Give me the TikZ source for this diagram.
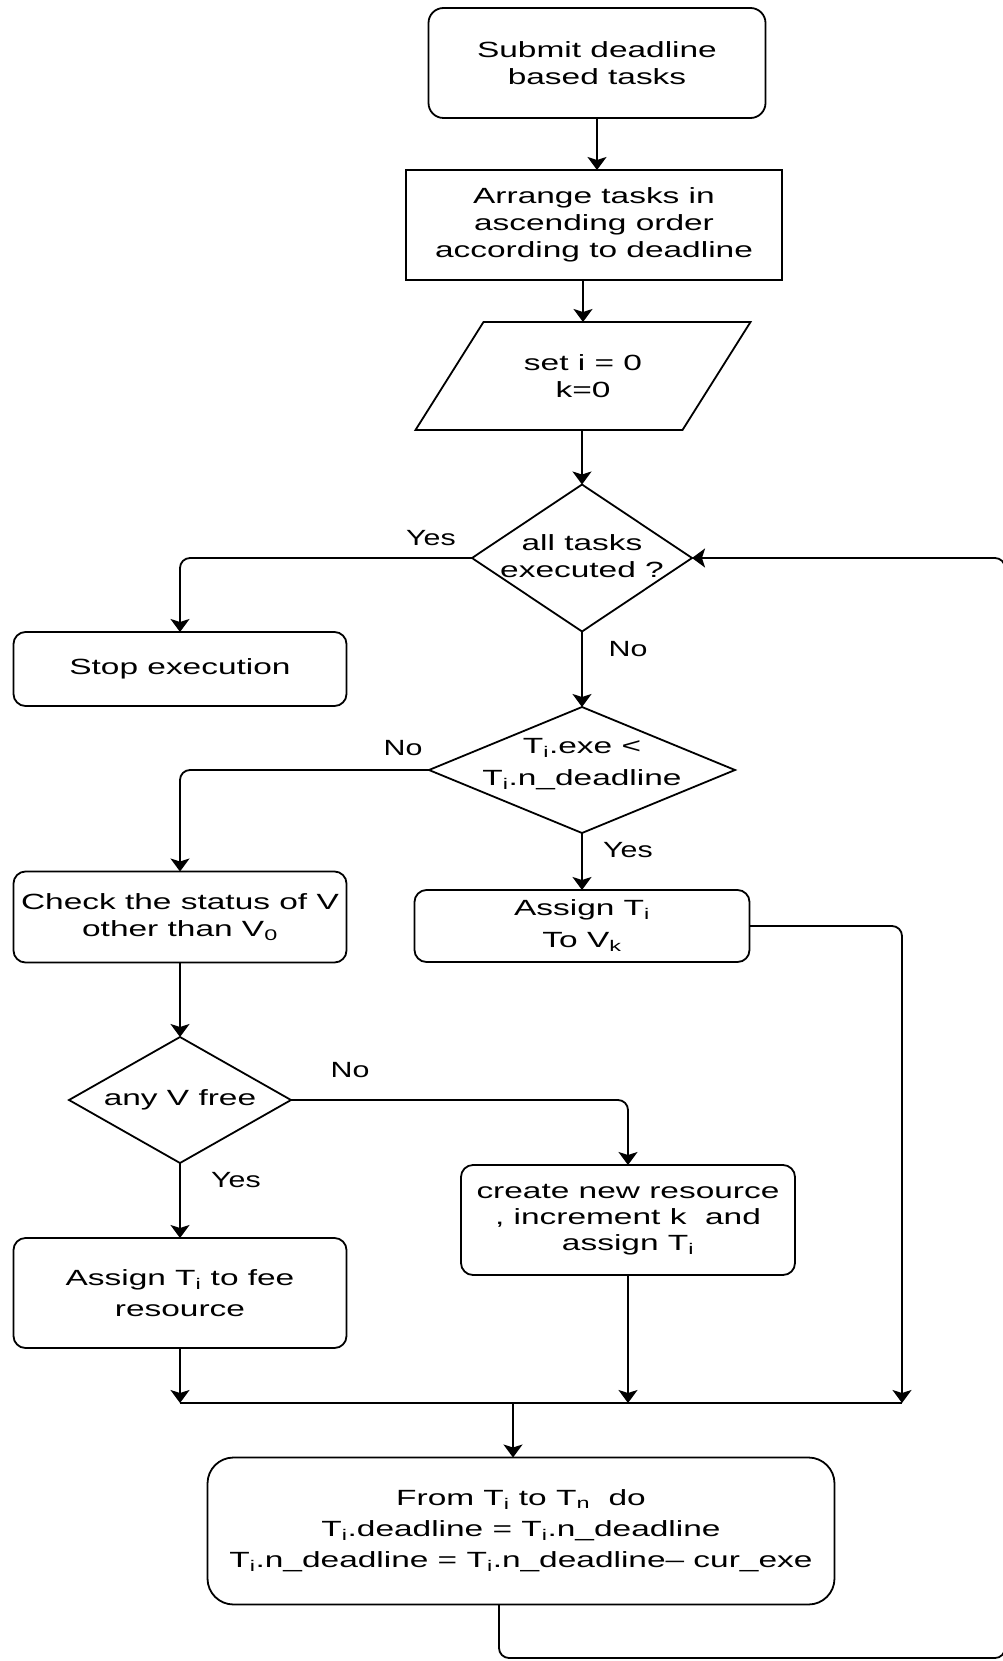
\documentclass[tikz,border=0pt]{standalone}
\usepackage{fontspec}
\setmainfont{Liberation Sans}[FakeStretch=1.52]
\newfontfamily\lblfont{Liberation Sans}[FakeStretch=1.38]
\usetikzlibrary{shapes.geometric,arrows.meta}
\begin{document}
\begin{tikzpicture}[x=1pt,y=-1pt,
  every node/.style={outer sep=0pt, inner sep=1pt, align=center, font=\fontsize{22}{27}\selectfont},
  box/.style={draw, line width=1.8pt, rounded corners=12pt},
  sqbox/.style={draw, line width=1.8pt},
  dia/.style={draw, diamond, line width=1.8pt, inner sep=0pt},
  conn/.style={line width=1.8pt},
  arr/.style={line width=1.8pt, -{Stealth[length=13pt,width=19pt,inset=3pt]}},
  lbl/.style={font=\lblfont\fontsize{22}{27}\selectfont},
  sp31/.style={font=\fontsize{22}{31}\selectfont},
  sp32/.style={font=\fontsize{22}{32}\selectfont}]
\useasboundingbox (0,0) rectangle (1003,1661);

% nodes
\node[box, rounded corners=15pt, minimum width=337pt, minimum height=110pt] (start) at (597,63) {Submit deadline\\based tasks};
\node[sqbox, minimum width=376pt, minimum height=110pt] (arrange) at (594,225) {Arrange tasks in\\ascending order\\according to deadline};
\node[minimum width=335pt, minimum height=108pt] (para) at (583,376) {set i = 0\\k=0};
\draw[conn, line join=miter] (para.south west) -- ([xshift=-68pt]para.south east) -- (para.north east) -- ([xshift=68pt]para.north west) -- cycle;

\node[dia, minimum width=220pt, minimum height=147pt] (d1) at (582,558) {};
\node (d1t) at (582,556) {all tasks\\executed ?};

\node[box, minimum width=333pt, minimum height=74pt] (stop) at (180,669) {Stop execution};

\node[dia, minimum width=306pt, minimum height=126pt] (d2) at (582,770) {};
\node[sp32] (d2t) at (582,764) {T\textsubscript{i}.exe <\\T\textsubscript{i}.n\_deadline};

\node[box, minimum width=333pt, minimum height=91pt] (check) at (180,917) {Check the status of V\\other than V\textsubscript{0}};
\node[box, sp32, minimum width=335pt, minimum height=72pt] (assign) at (582,926) {Assign T\textsubscript{i}\\To V\textsubscript{k}};

\node[dia, minimum width=222pt, minimum height=126pt] (d3) at (180,1100) {};
\node (d3t) at (180,1100) {any V free};

\node[box, font=\fontsize{22}{26}\selectfont, minimum width=334pt, minimum height=110pt] (create) at (628,1220) {create new resource\\, increment k~ and\\assign T\textsubscript{i}};
\node[box, sp31, minimum width=333pt, minimum height=110pt] (fee) at (180,1293) {Assign T\textsubscript{i} to fee\\resource};
\node[box, sp31, rounded corners=26pt, minimum width=627pt, minimum height=147pt] (bot) at (521,1531) {From T\textsubscript{i} to T\textsubscript{n}~ do\\T\textsubscript{i}.deadline = T\textsubscript{i}.n\_deadline\\T\textsubscript{i}.n\_deadline = T\textsubscript{i}.n\_deadline– cur\_exe};

% labels
\node[lbl] (y1) at (431,538) {Yes};
\node[lbl] (n1) at (628,649) {No};
\node[lbl] (n2) at (403,748) {No};
\node[lbl] (y2) at (628,850) {Yes};
\node[lbl] (n3) at (350,1070) {No};
\node[lbl] (y3) at (236,1180) {Yes};

% coordinates
\coordinate (m1) at (180,1403);
\coordinate (m3) at (902,1403);
\coordinate (m0) at (513,1403);
\coordinate (lp1) at (499,1658);
\coordinate (lp2) at (1005,1658);
\coordinate (lp3) at (1005,558);

% connectors
\draw[arr] (start.south) -- (start.south |- arrange.north);
\draw[arr] (arrange.south -| para.north) -- (para.north);
\draw[arr] (para.south -| d1.north) -- (d1.north);
\draw[arr, rounded corners=10pt] (d1.west) -| (stop.north);
\draw[arr] (d1.south) -- (d2.north);
\draw[arr, rounded corners=10pt] (d2.west) -| (check.north);
\draw[arr] (d2.south) -- (d2.south |- assign.north);
\draw[arr] (check.south -| d3.north) -- (d3.north);
\draw[arr, rounded corners=10pt] (d3.east) -| (create.north);
\draw[arr] (d3.south) -- (d3.south |- fee.north);
\draw[conn] (fee.south |- m1) -- (m3);
\draw[arr] (fee.south) -- (fee.south |- m1);
\draw[arr] (create.south) -- (create.south |- m1);
\draw[arr, rounded corners=10pt] (assign.east) -| (m3);
\draw[arr] (m0) -- (m0 |- bot.north);
\draw[arr, rounded corners=10pt] ([xshift=-22pt]bot.south) -- ([xshift=-22pt]bot.south |- lp1) -- (lp2) -- (lp3) -- (d1.east);
\end{tikzpicture}
\end{document}
